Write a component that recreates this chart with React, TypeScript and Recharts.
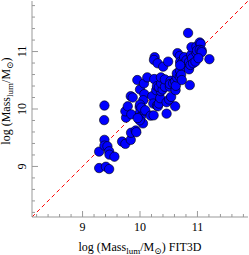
import React from 'react';
import { ScatterChart, Scatter, XAxis, YAxis, ReferenceLine } from 'recharts';

// log mass from FIT3D (x) vs. luminous mass (y)
const massFit3d = [
  9.289, 9.406, 9.463, 9.289, 9.376, 9.381, 9.381, 9.381, 9.433, 9.463,
  9.468, 9.555, 9.688, 9.745, 9.839, 9.844, 9.925, 9.936, 9.757, 9.745,
  9.787, 9.839, 9.873, 9.849, 9.953, 9.995, 10.0, 10.017, 10.052, 10.0,
  10.069, 10.075, 10.057, 10.064, 9.995, 9.96, 10.0, 10.023, 10.092, 10.127,
  10.185, 10.237, 10.213, 10.231, 10.248, 10.282, 10.295, 10.312, 10.255, 10.243,
  10.307, 10.329, 10.352, 10.364, 10.295, 10.329, 10.393, 10.369, 10.364, 10.433,
  10.433, 10.404, 10.49, 10.463, 10.463, 10.508, 10.542, 10.52, 10.532, 10.52,
  10.577, 10.612, 10.612, 10.619, 10.624, 10.641, 10.641, 10.693, 10.698, 10.716,
  10.728, 10.653, 10.693, 10.698, 10.74, 10.768, 10.78, 10.809, 10.837, 10.867,
  10.854, 10.854, 10.889, 10.879, 10.906, 10.924, 10.965, 10.983, 10.896, 10.983,
  11.04, 11.057, 10.993, 11.04, 11.074, 11.074, 11.208, 11.017, 10.698,
];
const massLum = [
  8.972, 8.995, 8.954, 9.258, 9.807, 10.06, 9.463, 9.363, 9.351, 9.263,
  9.205, 9.17, 9.433, 9.393, 9.463, 9.586, 9.626, 9.596, 9.849, 9.96,
  10.047, 10.223, 10.2, 9.907, 10.504, 10.035, 9.937, 9.872, 9.749, 10.34,
  10.446, 10.258, 10.153, 9.977, 9.802, 9.842, 10.077, 10.025, 9.977, 10.551,
  9.884, 9.889, 10.223, 10.095, 10.521, 10.328, 10.06, 10.047, 10.902, 10.854,
  10.796, 10.095, 10.188, 10.311, 10.398, 10.381, 10.34, 10.446, 10.551, 10.386,
  10.516, 10.737, 10.825, 9.919, 10.118, 10.165, 10.211, 10.386, 10.491, 10.433,
  10.446, 10.481, 10.047, 10.328, 10.404, 10.551, 10.621, 10.561, 10.667, 10.596,
  10.504, 10.972, 10.925, 10.819, 10.819, 10.902, 10.796, 10.849, 11.323, 10.416,
  10.819, 10.691, 10.942, 10.767, 10.884, 10.796, 10.825, 10.972, 11.077, 11.088,
  11.158, 11.135, 11.018, 11.03, 11.018, 10.989, 10.867, 10.884, 10.761,
];

const axisTicks = [
  8.2, 8.4, 8.6, 8.8, 9, 9.2, 9.4, 9.6, 9.8, 10,
  10.2, 10.4, 10.6, 10.8, 11, 11.2, 11.4, 11.6, 11.8,
];
const DOMAIN: [number, number] = [8.12, 11.88];

const data = massFit3d.map((x, i) => ({ x, y: massLum[i] }));

const FONT = '"Liberation Serif", "DejaVu Serif", serif';
const GRAY = '#999';

const Tick = (props: any) => {
  const { x, y, payload, side } = props;
  const v = payload.value;
  const major = Math.abs(v - Math.round(v)) < 1e-6;
  const len = major ? 6 : 3;
  if (side === 'bottom') {
    return (
      <g>
        <line x1={x} y1={y} x2={x} y2={y - len} stroke={GRAY} />
        {major && (
          <text x={x} y={y + 14} textAnchor="middle" fontSize={12} fontFamily={FONT} fill="#000">
            {v}
          </text>
        )}
      </g>
    );
  }
  if (side === 'top') return <line x1={x} y1={y} x2={x} y2={y + len} stroke={GRAY} />;
  if (side === 'right') return <line x1={x} y1={y} x2={x - len} y2={y} stroke={GRAY} />;
  return (
    <g>
      <line x1={x} y1={y} x2={x + len} y2={y} stroke={GRAY} />
      {major && (
        <text
          x={x - 6}
          y={y}
          transform={`rotate(-90 ${x - 6} ${y})`}
          textAnchor="middle"
          fontSize={12}
          fontFamily={FONT}
          fill="#000"
        >
          {v}
        </text>
      )}
    </g>
  );
};

const Dot = (p: any) => (
  <circle cx={p.cx} cy={p.cy} r={4.7} fill="#0000ff" stroke="#000" strokeWidth={0.6} />
);

const XTitle = () => (
  <text x={140} y={251} textAnchor="middle" fontSize={12} fontFamily={FONT} fill="#000">
    log (Mass
    <tspan fontSize={9} dy={3}>lum</tspan>
    <tspan dy={-3}>/M</tspan>
    <tspan fontSize={9} dy={3}>⊙</tspan>
    <tspan dy={-3}>) FIT3D</tspan>
  </text>
);

const YTitle = () => (
  <text
    x={10}
    y={101}
    transform="rotate(-90 10 101)"
    textAnchor="middle"
    fontSize={12}
    fontFamily={FONT}
    fill="#000"
  >
    log (Mass
    <tspan fontSize={9} dy={3}>lum</tspan>
    <tspan dy={-3}>/M</tspan>
    <tspan fontSize={9} dy={3}>⊙</tspan>
    <tspan dy={-3}>)</tspan>
  </text>
);

export default function App() {
  return (
    <div style={{ position: 'absolute', left: 0, top: 0, background: '#fff' }}>
      <ScatterChart width={249} height={255} margin={{ top: 1, right: 1, bottom: 0, left: 0 }}>
        <XAxis
          xAxisId="b"
          type="number"
          dataKey="x"
          domain={DOMAIN}
          allowDataOverflow
          ticks={axisTicks}
          interval={0}
          height={38}
          tickSize={0}
          tickMargin={0}
          tickLine={false}
          axisLine={{ stroke: GRAY }}
          tick={(p: any) => <Tick {...p} side="bottom" />}
          label={{ content: () => <XTitle /> }}
        />
        <XAxis
          xAxisId="t"
          orientation="top"
          type="number"
          domain={DOMAIN}
          allowDataOverflow
          ticks={axisTicks}
          interval={0}
          height={0}
          tickSize={0}
          tickMargin={0}
          tickLine={false}
          axisLine={{ stroke: GRAY }}
          tick={(p: any) => <Tick {...p} side="top" />}
        />
        <YAxis
          yAxisId="l"
          type="number"
          dataKey="y"
          domain={DOMAIN}
          allowDataOverflow
          ticks={axisTicks}
          interval={0}
          width={32}
          tickSize={0}
          tickMargin={0}
          tickLine={false}
          axisLine={{ stroke: GRAY }}
          tick={(p: any) => <Tick {...p} side="left" />}
          label={{ content: () => <YTitle /> }}
        />
        <YAxis
          yAxisId="r"
          orientation="right"
          type="number"
          domain={DOMAIN}
          allowDataOverflow
          ticks={axisTicks}
          interval={0}
          width={0}
          tickSize={0}
          tickMargin={0}
          tickLine={false}
          axisLine={{ stroke: GRAY }}
          tick={(p: any) => <Tick {...p} side="right" />}
        />
        <ReferenceLine
          xAxisId="b"
          yAxisId="l"
          segment={[
            { x: DOMAIN[0], y: DOMAIN[0] },
            { x: DOMAIN[1], y: DOMAIN[1] },
          ]}
          stroke="#ff0000"
          strokeDasharray="4 3"
          ifOverflow="visible"
        />
        <Scatter
          xAxisId="b"
          yAxisId="l"
          data={data}
          shape={Dot}
          isAnimationActive={false}
        />
      </ScatterChart>
    </div>
  );
}
